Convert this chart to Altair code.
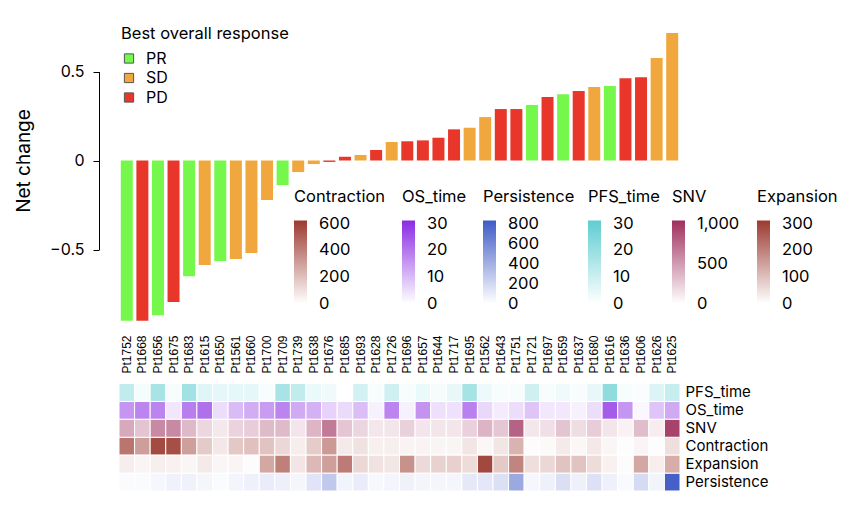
import altair as alt
import pandas as pd

# ---------------- data ----------------
patients = ["Pt1752", "Pt1668", "Pt1656", "Pt1675", "Pt1683", "Pt1615", "Pt1650", "Pt1561",
            "Pt1660", "Pt1700", "Pt1709", "Pt1739", "Pt1638", "Pt1676", "Pt1685", "Pt1693",
            "Pt1628", "Pt1726", "Pt1696", "Pt1657", "Pt1644", "Pt1717", "Pt1695", "Pt1562",
            "Pt1643", "Pt1751", "Pt1721", "Pt1697", "Pt1659", "Pt1637", "Pt1680", "Pt1616",
            "Pt1636", "Pt1606", "Pt1626", "Pt1625"]
net_change = [-0.90, -0.90, -0.87, -0.795, -0.65, -0.587, -0.565, -0.553, -0.52, -0.222,
              -0.138, -0.065, -0.02, -0.008, 0.021, 0.031, 0.059, 0.104, 0.108, 0.113,
              0.128, 0.175, 0.184, 0.244, 0.289, 0.289, 0.312, 0.357, 0.372, 0.39,
              0.413, 0.419, 0.462, 0.467, 0.576, 0.716]
response = ["PR", "PD", "PR", "PD", "PR", "SD", "PR", "SD", "SD", "SD", "PR", "SD",
            "SD", "PD", "PD", "SD", "PD", "SD", "PD", "PD", "PD", "PD", "SD", "SD",
            "PD", "PD", "PR", "PD", "PR", "PD", "SD", "PR", "PD", "PD", "SD", "SD"]

rows = ["PFS_time", "OS_time", "SNV", "Contraction", "Expansion", "Persistence"]
pfs_time = [12, 2, 17, 1.5, 18, 6, 5, 5, 5, 1.5, 17, 12, 4, 3, 0, 9, 1.5, 9.5,
            1.5, 4, 2, 4.5, 17.5, 3.5, 1.5, 1.5, 9.5, 1.5, 3, 1.5, 4.5, 21.7, 1.5, 1, 6.8, 11]
os_time = [15.5, 18, 18, 3.7, 19, 21, 5, 10, 12, 14.5, 18, 12.5, 11.4, 6.4, 5.3, 9.5, 2, 18,
           2, 15.8, 4.5, 4.4, 18.6, 5.7, 3, 5, 8.6, 3.5, 3.5, 2, 5, 24, 15.4, 1.2, 8.7, 12.6]
snv = [430, 295, 585, 585, 350, 200, 113, 220, 250, 340, 340, 128, 367, 660, 290, 210, 122, 125,
       230, 128, 125, 125, 235, 373, 280, 785, 122, 162, 295, 172, 250, 125, 69, 330, 88, 940]
contraction = [437, 305, 570, 557, 302, 164, 72, 173, 195, 186, 126, 57, 160, 320, 66, 91, 47, 50,
               35, 37, 31, 31, 82, 25, 79, 239, 12, 19, 66, 25, 69, 28, 6, 34, 6, 104]
expansion = [28, 17, 25, 22, 15, 33, 15, 17, 5, 138, 201, 41, 110, 151, 209, 63, 46, 38,
             173, 58, 71, 74, 55, 288, 85, 192, 52, 63, 93, 93, 55, 22, 5, 137, 28, 129]
persistence = [22, 22, 39, 65, 65, 43, 22, 48, 70, 91, 78, 43, 135, 274, 56, 91, 33, 48,
               66, 52, 43, 43, 113, 122, 156, 434, 39, 74, 160, 74, 152, 70, 26, 182, 57, 800]

resp_domain = ["PR", "SD", "PD"]
resp_colors = ["#76F74B", "#F0A83E", "#E8362A"]

legend_order = ["Contraction", "OS_time", "Persistence", "PFS_time", "SNV", "Expansion"]
legend_ticks = [[0, 200, 400, 600], [0, 10, 20, 30], [0, 200, 400, 600, 800],
                [0, 10, 20, 30], [0, 500, 1000], [0, 100, 200, 300]]
legend_colors = ["#9B3A30", "#8A2BE2", "#3F5AC6", "#5FCDD1", "#9E2F5C", "#9B3A30"]
legend_x = [175, 283, 364, 469, 553, 638]

y_ticks = [-0.5, 0, 0.5]

# ---------------- tables ----------------
bar_df = pd.DataFrame({"patient": patients, "net": net_change, "response": response})
row_values = {"PFS_time": pfs_time, "OS_time": os_time, "SNV": snv,
              "Contraction": contraction, "Expansion": expansion, "Persistence": persistence}
heat_df = pd.DataFrame([{"patient": p, "row": r, "value": v}
                        for r in rows for p, v in zip(patients, row_values[r])])

FONT = "Inter"
W, H = 561, 471

x_axis = alt.Axis(orient="top", offset=-355, labelAngle=270, labelAlign="left",
                  labelBaseline="middle", labelPadding=2, domain=False, ticks=False,
                  title=None, labelFont="Liberation Sans", labelFontSize=12,
                  labelColor="black", grid=False, labelOverlap=False)
x_scale = alt.Scale(domain=patients, paddingInner=0, paddingOuter=0)

bars = alt.Chart(bar_df).mark_bar(width=alt.RelativeBandSize(0.77)).encode(
    x=alt.X("patient:N", sort=patients, scale=x_scale, axis=x_axis),
    y=alt.Y("net:Q",
            scale=alt.Scale(domain=[-0.5, 0.5], range=[229.5, 51.5], nice=False, zero=False),
            axis=alt.Axis(orient="left", values=y_ticks, format="~g", offset=20,
                          title="Net change", titleFont=FONT, titleFontSize=19,
                          titleFontWeight="normal", titleColor="black", titlePadding=16,
                          labelFont=FONT, labelFontSize=16, labelColor="black",
                          labelPadding=9, tickSize=6, tickColor="black", domainColor="black",
                          grid=False)),
    y2=alt.datum(0),
    color=alt.Color("response:N",
                    scale=alt.Scale(domain=resp_domain, range=resp_colors),
                    legend=alt.Legend(title="Best overall response", orient="none",
                                      legendX=2, legendY=6, symbolType="square",
                                      symbolSize=85, symbolStrokeColor="#555",
                                      symbolStrokeWidth=1, titleFont=FONT, titleFontSize=16.5,
                                      titleFontWeight="normal", titleColor="black",
                                      titlePadding=8, labelFont=FONT, labelFontSize=16,
                                      labelColor="black", labelOffset=9, rowPadding=3.5,
                                      padding=0)),
)

heat_axis = alt.Axis(orient="right", domain=False, ticks=False, labelPadding=5,
                     labelFont=FONT, labelFontSize=15, labelColor="black", title=None,
                     grid=False)

heat_layers = []
for name, ticks, col, lx in zip(legend_order, legend_ticks, legend_colors, legend_x):
    top = ticks[-1]
    dmin = -top * 3 / 80.0
    dmax = top * 83 / 80.0
    layer = alt.Chart(heat_df).transform_filter(alt.datum.row == name).mark_rect(
        stroke="white", strokeWidth=1
    ).encode(
        x=alt.X("patient:N", sort=patients, scale=x_scale, axis=x_axis),
        y=alt.Y("row:N", sort=rows,
                scale=alt.Scale(domain=rows, range=[363.5, 471], paddingInner=0, paddingOuter=0),
                axis=heat_axis),
        color=alt.Color("value:Q",
                        scale=alt.Scale(domain=[dmin, 0, dmax],
                                        range=["#ffffff", "#ffffff", col],
                                        interpolate="rgb"),
                        legend=alt.Legend(title=name, orient="none", legendX=lx, legendY=169,
                                          direction="vertical", gradientLength=86,
                                          gradientThickness=13, values=ticks, format=",d",
                                          titleFont=FONT, titleFontSize=16.5,
                                          titleFontWeight="normal", titleColor="black",
                                          titlePadding=15, labelFont=FONT, labelFontSize=16.5,
                                          labelColor="black", labelOffset=12,
                                          labelBaseline="middle", labelOverlap=False,
                                          gradientStrokeWidth=0, padding=0)),
    )
    heat_layers.append(layer)

heat = alt.layer(*heat_layers).resolve_scale(color="independent")

chart = alt.layer(bars, heat).resolve_scale(
    y="independent", color="independent"
).properties(
    width=W, height=H,
    padding={"left": 111, "top": 12, "right": 170, "bottom": 20},
    autosize=alt.AutoSizeParams(type="none"),
).configure_view(strokeWidth=0)

chart.save("out.html", embed_options={"renderer": "svg", "actions": False})
